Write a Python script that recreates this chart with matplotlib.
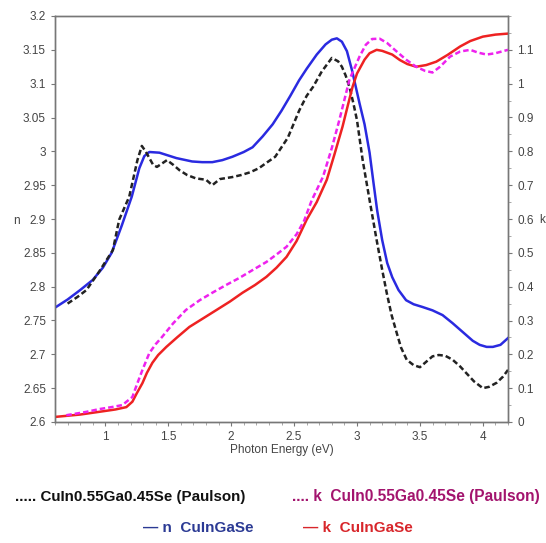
import matplotlib
matplotlib.use("Agg")
import matplotlib.pyplot as plt
from matplotlib.ticker import MultipleLocator

plt.rcParams['font.family'] = ['Liberation Sans', 'DejaVu Sans']

# n, CuInGaSe (blue, left axis)
n_x = [0.6, 0.7, 0.8, 0.9, 0.98, 1.05, 1.13, 1.21, 1.27, 1.31, 1.35, 1.43, 1.565, 1.69, 1.77,
       1.85, 1.93, 2.01, 2.1, 2.17, 2.25, 2.33, 2.4, 2.47, 2.54, 2.6, 2.68, 2.75, 2.8, 2.84,
       2.88, 2.92, 2.96, 3.02, 3.06, 3.10, 3.13, 3.16, 3.20, 3.24, 3.28, 3.33, 3.39, 3.45,
       3.52, 3.6, 3.68, 3.76, 3.84, 3.92, 3.975, 4.03, 4.08, 4.14, 4.2]
n_y = [2.769, 2.781, 2.795, 2.810, 2.828, 2.850, 2.890, 2.933, 2.975, 2.993, 2.999, 2.998,
       2.990, 2.985, 2.984, 2.984, 2.987, 2.992, 2.999, 3.006, 3.022, 3.040, 3.060, 3.082,
       3.105, 3.122, 3.143, 3.158, 3.165, 3.167, 3.162, 3.148, 3.120, 3.071, 3.040, 2.998,
       2.955, 2.913, 2.869, 2.835, 2.814, 2.795, 2.780, 2.774, 2.770, 2.765, 2.758, 2.746,
       2.733, 2.720, 2.714, 2.711, 2.711, 2.714, 2.724]

# n, CuIn0.55Ga0.45Se (Paulson) (black dashed, left axis)
np_x = [0.70, 0.78, 0.85, 0.95, 1.06, 1.11, 1.19, 1.255, 1.29, 1.32, 1.35, 1.38, 1.41, 1.45,
        1.49, 1.54, 1.59, 1.65, 1.72, 1.80, 1.85, 1.91, 2.01, 2.08, 2.15, 2.22, 2.28, 2.35,
        2.45, 2.54, 2.60, 2.65, 2.72, 2.80, 2.85, 2.88, 2.91, 2.94, 2.97, 3.00, 3.045, 3.10,
        3.156, 3.20, 3.236, 3.275, 3.315, 3.35, 3.395, 3.45, 3.50, 3.55, 3.60, 3.65, 3.70,
        3.76, 3.82, 3.87, 3.93, 4.00, 4.05, 4.11, 4.16, 4.2]
np_y = [2.775, 2.785, 2.795, 2.822, 2.854, 2.899, 2.933, 2.987, 3.008, 3.000, 2.990, 2.980,
        2.977, 2.982, 2.987, 2.980, 2.972, 2.965, 2.960, 2.958, 2.950, 2.959, 2.962, 2.965,
        2.969, 2.975, 2.983, 2.992, 3.020, 3.060, 3.082, 3.095, 3.118, 3.138, 3.133, 3.125,
        3.112, 3.095, 3.072, 3.046, 2.987, 2.928, 2.869, 2.825, 2.791, 2.758, 2.732, 2.710,
        2.692, 2.684, 2.681, 2.689, 2.697, 2.699, 2.698, 2.692, 2.682, 2.672, 2.660, 2.650,
        2.652, 2.658, 2.667, 2.677]

# k, CuInGaSe (red, right axis)
k_x = [0.6, 0.8, 0.95, 1.08, 1.167, 1.215, 1.25, 1.295, 1.33, 1.374, 1.42, 1.485, 1.57, 1.668,
       1.78, 1.883, 1.99, 2.09, 2.19, 2.28, 2.36, 2.44, 2.52, 2.60, 2.68, 2.76, 2.82, 2.885,
       2.93, 2.965, 3.0, 3.06, 3.1, 3.156, 3.2, 3.28, 3.34, 3.40, 3.47, 3.55, 3.63, 3.72,
       3.82, 3.9, 4.0, 4.1, 4.2]
k_y = [0.015, 0.022, 0.030, 0.037, 0.044, 0.060, 0.085, 0.115, 0.145, 0.175, 0.198, 0.222,
       0.250, 0.281, 0.307, 0.331, 0.356, 0.382, 0.405, 0.429, 0.456, 0.488, 0.535, 0.598,
       0.650, 0.716, 0.790, 0.873, 0.940, 0.991, 1.030, 1.071, 1.090, 1.100, 1.097, 1.086,
       1.070, 1.058, 1.050, 1.055, 1.065, 1.085, 1.110, 1.126, 1.139, 1.145, 1.148]

# k, CuIn0.55Ga0.45Se (Paulson) (magenta dashed, right axis)
kp_x = [0.69, 0.85, 0.95, 1.05, 1.135, 1.215, 1.25, 1.295, 1.35, 1.40, 1.45, 1.54, 1.64,
        1.75, 1.85, 1.96, 2.066, 2.17, 2.28, 2.36, 2.44, 2.52, 2.58, 2.64, 2.73, 2.80, 2.86,
        2.94, 3.02, 3.07, 3.12, 3.18, 3.24, 3.3, 3.39, 3.47, 3.54, 3.6, 3.66, 3.74, 3.82,
        3.9, 3.96, 4.03, 4.1, 4.2]
kp_y = [0.020, 0.030, 0.038, 0.044, 0.050, 0.074, 0.110, 0.154, 0.204, 0.230, 0.251, 0.292,
        0.331, 0.360, 0.382, 0.405, 0.426, 0.449, 0.473, 0.495, 0.518, 0.555, 0.595, 0.655,
        0.725, 0.810, 0.893, 1.012, 1.080, 1.115, 1.132, 1.133, 1.120, 1.100, 1.071, 1.050,
        1.038, 1.033, 1.050, 1.080, 1.095, 1.100, 1.092, 1.086, 1.090, 1.100]

x_ticks = [1, 1.5, 2, 2.5, 3, 3.5, 4]
n_ticks = [2.6, 2.65, 2.7, 2.75, 2.8, 2.85, 2.9, 2.95, 3, 3.05, 3.1, 3.15, 3.2]
k_ticks = [0, 0.1, 0.2, 0.3, 0.4, 0.5, 0.6, 0.7, 0.8, 0.9, 1, 1.1]

W, H = 546, 543
fig = plt.figure(figsize=(W / 100, H / 100), dpi=100)
ax = fig.add_axes([55 / W, 1 - 422 / H, 453 / W, 406 / H])
ax2 = ax.twinx()

lkw = dict(lw=1.8, solid_joinstyle='round', dash_joinstyle='round')
ax.plot(n_x, n_y, color='#2a2ae0', zorder=3, **lkw)
ax.plot(np_x, np_y, color='#222222', ls=(0, (2.2, 1.2)), zorder=3, **lkw)
ax2.plot(k_x, k_y, color='#ee2222', **lkw)
ax2.plot(kp_x, kp_y, color='#ee22ee', ls=(0, (2.2, 1.2)), **lkw)

ax.set_xlim(0.6, 4.2)
ax.set_ylim(2.6, 3.2)
ax2.set_ylim(0, 1.2)

tc = '#444444'
ax.set_xticks(x_ticks)
ax.set_xticklabels([f'{t:g}' for t in x_ticks])
ax.set_yticks(n_ticks)
ax.set_yticklabels([f'{t:g}' for t in n_ticks])
ax2.set_yticks(k_ticks)
ax2.set_yticklabels([f'{t:g}' for t in k_ticks])
ax.xaxis.set_minor_locator(MultipleLocator(0.1))
ax2.yaxis.set_minor_locator(MultipleLocator(0.05))

for a in (ax, ax2):
    a.tick_params(axis='both', which='major', labelsize=8.5, colors='#777777',
                  labelcolor=tc, length=3, width=0.8)
    a.tick_params(axis='both', which='minor', colors='#999999', length=2, width=0.6)
    for s in a.spines.values():
        s.set_color('#777777')
        s.set_linewidth(1.0)

ax.set_xlabel('Photon Energy (eV)', fontsize=8.5, color=tc, labelpad=1)
fig.text(13 / W, 1 - 221 / H, 'n', fontsize=8.5, color=tc, ha='left', va='center')
fig.text(542 / W, 1 - 220 / H, 'k', fontsize=8.5, color=tc, ha='center', va='center')

fs = 11
fig.text(15 / W, 1 - 497 / H, '..... CuIn0.55Ga0.45Se (Paulson)', fontsize=10.9,
         fontweight='bold', color='#111111', ha='left', va='center')
fig.text(292 / W, 1 - 497 / H, '.... k  CuIn0.55Ga0.45Se (Paulson)', fontsize=11.2,
         fontweight='bold', color='#a3146e', ha='left', va='center')
fig.text(143 / W, 1 - 528 / H, '— n  CuInGaSe', fontsize=fs,
         fontweight='bold', color='#2b3a94', ha='left', va='center')
fig.text(303 / W, 1 - 528 / H, '— k  CuInGaSe', fontsize=fs,
         fontweight='bold', color='#d8262b', ha='left', va='center')

fig.savefig('out.png', dpi=100)
